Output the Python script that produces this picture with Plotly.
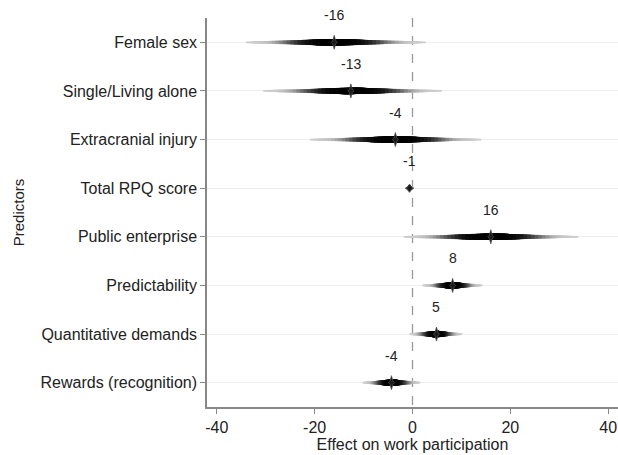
import numpy as np
import plotly.graph_objects as go

predictors = ["Female sex", "Single/Living alone", "Extracranial injury", "Total RPQ score",
              "Public enterprise", "Predictability", "Quantitative demands", "Rewards (recognition)"]
estimates = [-16.0, -12.6, -3.5, -0.6, 16.0, 8.2, 4.9, -4.3]
ci_low = [-34.0, -30.5, -21.0, -1.4, -1.8, 2.0, -0.6, -10.2]
ci_high = [2.7, 6.0, 14.0, 0.2, 33.9, 14.3, 10.2, 1.6]
est_labels = ["-16", "-13", "-4", "-1", "16", "8", "5", "-4"]
x_ticks = [-40, -20, 0, 20, 40]
x_tick_labels = ["-40", "-20", "0", "20", "40"]

rows = list(range(1, len(predictors) + 1))

# pixel scale helpers (plot area 411 x 389 px)
X_RANGE = (-42, 42)
Y_RANGE = (8.5, 0.5)
PX_X = 411 / (X_RANGE[1] - X_RANGE[0])
PX_Y = 389 / abs(Y_RANGE[0] - Y_RANGE[1])

FONT = "Liberation Sans, Arial, sans-serif"

fig = go.Figure()

# reference line at zero
fig.add_trace(go.Scatter(x=[0, 0], y=[Y_RANGE[1], Y_RANGE[0]], mode="lines",
                         line=dict(color="#999999", width=1.3, dash="dash"),
                         hoverinfo="skip", showlegend=False))


def half_h(t):
    return (0.85 + 2.4 * np.exp(-(t / 0.5) ** 2)) / PX_Y


def gray(t):
    g = int(round(205 * (1 - np.exp(-(t / 0.62) ** 4))))
    return f"rgb({g},{g},{g})"


levels = np.linspace(1.0, 0.04, 24)
for tk in levels:
    xs, ys = [], []
    for r, m, lo, hi in zip(rows, estimates, ci_low, ci_high):
        ts = np.linspace(-tk, tk, 41)
        xr = np.where(ts < 0, m + ts * (m - lo), m + ts * (hi - m))
        hh = half_h(np.abs(ts))
        px = list(xr) + list(xr[::-1]) + [xr[0]]
        py = list(r - hh) + list((r + hh)[::-1]) + [r - hh[0]]
        xs += px + [None]
        ys += py + [None]
    fig.add_trace(go.Scatter(x=xs, y=ys, mode="lines", fill="toself",
                             fillcolor=gray(tk), line=dict(width=0),
                             hoverinfo="skip", showlegend=False))

# central spikes (point estimate markers)
sx, sy = [], []
for r, m, lo, hi in zip(rows, estimates, ci_low, ci_high):
    wide = (hi - lo) * PX_X > 20
    hh = (7.0 if wide else 4.2) / PX_Y
    hw = (3.0 if wide else 4.2) / PX_X
    ih = 1.5 / PX_Y
    iw = 1.5 / PX_X
    sx += [m, m + iw, m + hw, m + iw, m, m - iw, m - hw, m - iw, m, None]
    sy += [r - hh, r - ih, r, r + ih, r + hh, r + ih, r, r - ih, r - hh, None]
fig.add_trace(go.Scatter(x=sx, y=sy, mode="lines", fill="toself",
                         fillcolor="rgb(25,25,25)", line=dict(width=0.8, color="rgb(80,80,80)"),
                         hoverinfo="skip", showlegend=False))

for r, m, lab in zip(rows, estimates, est_labels):
    fig.add_annotation(x=m, y=r, text=lab, showarrow=False, yshift=27,
                       font=dict(family=FONT, size=14, color="#222222"))

fig.update_layout(
    width=618, height=455,
    margin=dict(l=207, r=0, t=18, b=48, autoexpand=False),
    paper_bgcolor="white", plot_bgcolor="white",
    font=dict(family=FONT, size=16, color="#222222"),
    showlegend=False,
    xaxis=dict(range=list(X_RANGE), tickvals=x_ticks, ticktext=x_tick_labels,
               ticks="outside", ticklen=5,
               tickcolor="#888888", showline=True, linecolor="#888888", linewidth=1.5,
               showgrid=False, zeroline=False, automargin=True,
               tickfont=dict(size=16),
               title=dict(text="Effect on work participation", font=dict(size=16), standoff=0)),
    yaxis=dict(range=list(Y_RANGE), tickvals=rows, ticktext=predictors, ticks="outside",
               ticklen=5, tickcolor="#888888", showline=True, linecolor="#888888",
               linewidth=1.5, showgrid=True, gridcolor="#eeeeee", gridwidth=1,
               zeroline=False, automargin=False, tickfont=dict(size=16),
               title=dict(text="Predictors", font=dict(size=15), standoff=12)),
)

fig.write_html("out.html", config={"displayModeBar": False},
               post_script="document.body.style.margin='0';document.body.style.padding='0';")
